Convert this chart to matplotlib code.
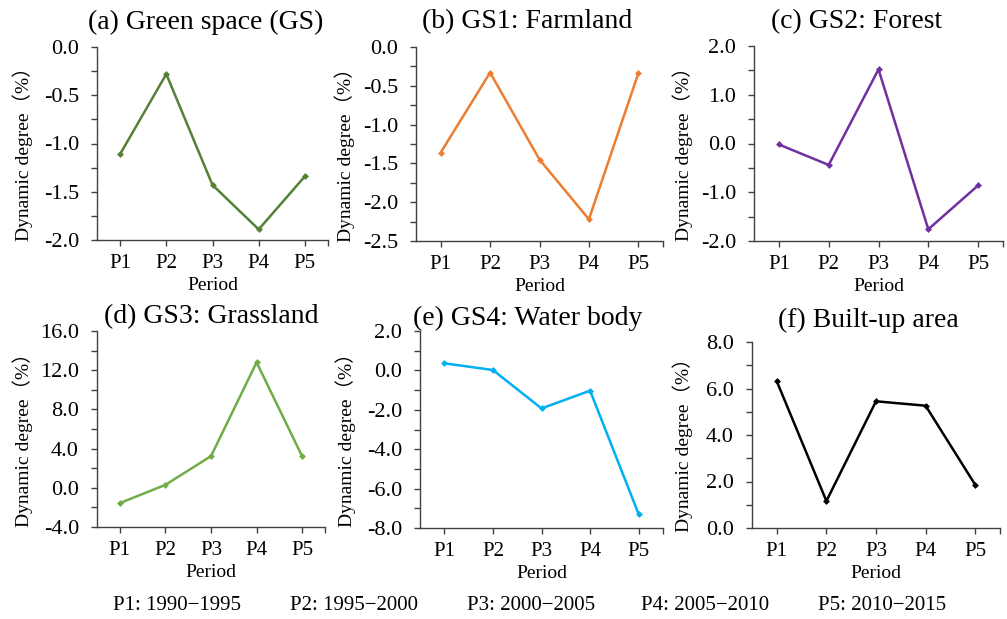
import numpy as np
import matplotlib
matplotlib.use("Agg")
import matplotlib.pyplot as plt
import matplotlib.ticker as ticker

plt.rcParams['font.family'] = ['Liberation Serif', 'Noto Sans CJK SC', 'DejaVu Sans']

# data
periods = ["P1", "P2", "P3", "P4", "P5"]
period_notes = ["P1: 1990\u22121995", "P2: 1995\u22122000", "P3: 2000\u22122005",
                "P4: 2005\u22122010", "P5: 2010\u22122015"]

titles = ["(a) Green space (GS)", "(b) GS1: Farmland", "(c) GS2: Forest",
          "(d) GS3: Grassland", "(e) GS4: Water body", "(f) Built-up area"]

gs_all = [-1.11, -0.28, -1.43, -1.89, -1.34]
gs_farmland = [-1.36, -0.33, -1.45, -2.22, -0.34]
gs_forest = [-0.02, -0.44, 1.52, -1.76, -0.86]
gs_grassland = [-1.56, 0.30, 3.23, 12.8, 3.20]
gs_water = [0.36, 0.02, -1.93, -1.03, -7.30]
built_up = [6.31, 1.16, 5.45, 5.26, 1.86]

series = [gs_all, gs_farmland, gs_forest, gs_grassland, gs_water, built_up]
colors = ['#538135', '#ED7D31', '#7030A0', '#70AD47', '#00B0F0', '#000000']
y_limits = [(-2.0, 0.0), (-2.5, 0.0), (-2.0, 2.0), (-4.0, 16.0), (-8.0, 2.0), (0.0, 8.0)]
y_steps = [0.5, 0.5, 1.0, 4.0, 2.0, 2.0]

W, H = 1007, 619
# axes boxes in pixels: left, right, top, bottom
boxes = [(97, 328, 47, 240), (416, 663, 47, 241), (754, 1003, 46, 241),
         (97, 325, 331, 527), (420, 663, 331, 528), (752, 1000, 342, 528)]
title_pos = [(206, 22), (527, 22), (857, 22), (211, 317), (528, 318), (868, 320)]
ylabel_x = [33, 355, 693, 33, 356, 693]

fig = plt.figure(figsize=(W / 100, H / 100), dpi=100)
spine_col = '#404040'

for i in range(6):
    l, r, t, b = boxes[i]
    ax = fig.add_axes([l / W, 1 - b / H, (r - l) / W, (b - t) / H])
    x = np.arange(len(periods))
    ax.plot(x, series[i], color=colors[i], lw=1.8, marker='D', ms=3.5,
            markeredgewidth=0)
    ax.set_xlim(-0.5, 4.5)
    ax.set_ylim(*y_limits[i])
    ax.set_xticks(x)
    ax.set_xticklabels(periods, fontsize=15)
    ax.set_xticks([4.5], minor=True)
    ax.yaxis.set_major_locator(ticker.MultipleLocator(y_steps[i]))
    ax.yaxis.set_minor_locator(ticker.MultipleLocator(y_steps[i] / 2))
    ax.yaxis.set_major_formatter(ticker.FormatStrFormatter('%.1f'))
    ax.tick_params(which='both', direction='out', length=4, width=1, color=spine_col)
    ax.tick_params(axis='y', labelsize=16, pad=9)
    ax.tick_params(axis='x', pad=6)
    for s in ['top', 'right']:
        ax.spines[s].set_visible(False)
    for s in ['left', 'bottom']:
        ax.spines[s].set_color(spine_col)
        ax.spines[s].set_linewidth(1)
    ax.set_xlabel('Period', fontsize=14, labelpad=3)
    ax.set_ylabel('Dynamic degree\uff08%\uff09', fontsize=14)
    ax.yaxis.set_label_coords((ylabel_x[i] - l) / (r - l), 0.47)
    tx, ty = title_pos[i]
    fig.text(tx / W, 1 - ty / H, titles[i], fontsize=20, ha='center', va='center')

note_x = [113, 290, 467, 641, 818]
for nx, note in zip(note_x, period_notes):
    fig.text(nx / W, 1 - 605 / H, note, fontsize=15, ha='left', va='center')

fig.savefig('out.png', dpi=100)
